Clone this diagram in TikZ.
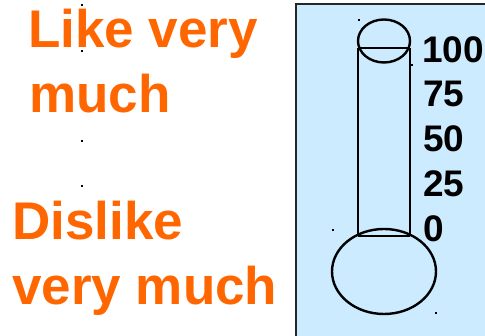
\documentclass[tikz,border=0pt]{standalone}
\usepackage{fontspec}
\setmainfont{Liberation Sans}
\usepackage{xcolor}
\definecolor{likeorange}{HTML}{FF6600}
\definecolor{panelblue}{HTML}{CCEBFF}
\begin{document}
\begin{tikzpicture}[x=1pt,y=-1pt,
  word/.style={anchor=base west,inner sep=0pt,text=likeorange,font=\bfseries\fontsize{53}{53}\selectfont},
  ticklabel/.style={anchor=base west,inner sep=0pt,font=\bfseries\fontsize{37}{37}\selectfont},
  glass/.style={line width=2.4pt},
  speck/.style={fill=black,minimum size=2pt,inner sep=0pt}]
  \useasboundingbox (0,0) rectangle (485,336);
  \fill[panelblue] (296,4) rectangle (490,345);
  \draw[line width=2.2pt,black!85] (490,4)--(296,4)--(296,345);
  % thermometer
  \draw[glass] (384,41) ellipse [x radius=26,y radius=21.5];
  \draw[glass] (384,271.5) ellipse [x radius=52,y radius=42.5];
  \coordinate (tl) at (358,48); \coordinate (tr) at (410,48);
  \coordinate (bl) at (358,236); \coordinate (br) at (410,236);
  \draw[glass] (tl)--(tr); \draw[glass] (bl)--(br);
  \draw[glass] (tl)--(bl); \draw[glass] (tr)--(br);
  % scale
  \node[ticklabel] (t100) at (422,63) {100};
  \node[ticklabel] (t75) at (423,107) {75};
  \node[ticklabel] (t50) at (423,152) {50};
  \node[ticklabel] (t25) at (423,197) {25};
  \node[ticklabel] (t0) at (423,242) {0};
  % words
  \node[word] (like) at (28,48) {Like very};
  \node[word] (likeb) at (29,113) {much};
  \node[word] (dislike) at (12,240) {Dislike};
  \node[word] (dislikeb) at (12,305) {very much};
  \foreach \p in {(82,5),(82,51),(82,141),(82,186),(359,20),(412,65),(333,230),(436,313)}
    \node[speck] at \p {};
\end{tikzpicture}
\end{document}
